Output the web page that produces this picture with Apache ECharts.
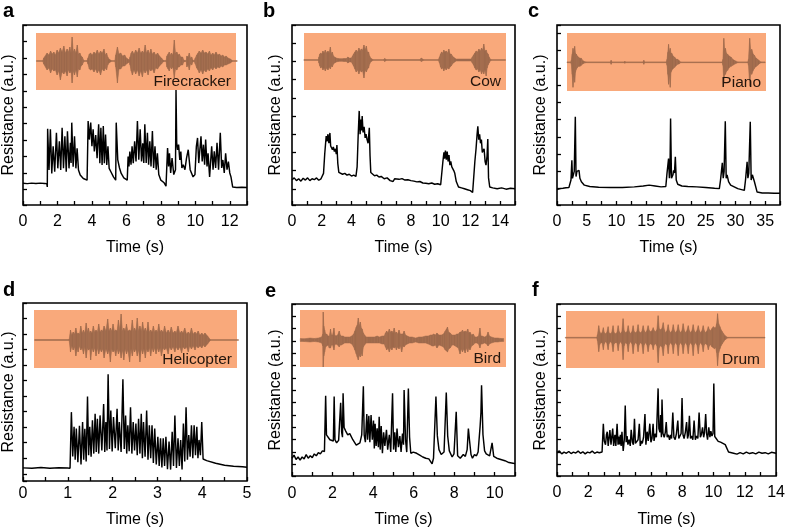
<!DOCTYPE html>
<html>
<head>
<meta charset="utf-8">
<script src="https://cdn.jsdelivr.net/npm/echarts@6/dist/echarts.min.js"></script>
<style>
html,body{margin:0;padding:0;background:#fff;}
#chart{width:788px;height:529px;}
</style>
</head>
<body>
<div id="chart"></div>
<script>
// resistance traces, [time (s), resistance (a.u.)]
var traceA = [[0,0.37],[0.25,0.35],[0.5,0.38],[0.75,0.36],[1.0,0.38],[1.25,0.36],[1.38,0.35],[1.41,0.15],
 [1.43,3.69],[1.51,1.18],[1.59,3.66],[1.67,0.97],[1.75,2.62],[1.84,1.07],[1.94,3.44],[2.02,1.28],[2.11,2.93],[2.19,1.18],[2.27,3.75],[2.35,1.28],[2.43,3.23],[2.51,1.07],[2.58,3.54],[2.67,1.28],[2.75,2.83],[2.79,1.6],[2.83,4.06],[2.91,1.38],[2.99,3.23],[3.07,1.28],[3.14,2.5],[3.22,1.18],[3.32,0.87],[3.5,0.66],[3.72,0.56],
 [3.78,4.16],[3.85,3.03],[3.93,4.06],[4.0,2.62],[4.07,3.65],[4.14,2.31],[4.22,3.3],[4.3,1.9],[4.39,3.96],[4.46,1.59],[4.52,3.75],[4.59,1.48],[4.66,3.85],[4.72,1.59],[4.79,3.33],[4.86,1.48],[4.93,2.62],[5.0,1.28],[5.1,1.07],[5.25,0.76],[5.38,0.56],
 [5.41,4.06],[5.5,1.79],[5.6,1.3],[5.7,0.97],[5.85,0.7],[6.05,0.56],
 [6.1,2.0],[6.15,1.4],[6.2,2.3],[6.27,1.5],[6.33,2.62],[6.4,1.6],[6.48,2.93],[6.56,1.7],[6.64,4.16],[6.72,1.8],[6.8,3.65],[6.88,1.7],[6.95,2.8],[7.01,1.6],[7.07,3.96],[7.15,1.6],[7.22,3.44],[7.29,1.5],[7.36,2.93],[7.43,1.4],[7.51,3.55],[7.58,1.3],[7.66,2.62],[7.73,1.2],[7.8,2.2],[7.88,0.9],[8.0,0.56],[8.19,0.4],[8.3,0.2],
 [8.39,2.52],[8.45,1.4],[8.5,2.2],[8.57,1.0],[8.65,1.9],[8.75,0.9],[8.85,1.2],
 [8.88,6.05],[8.92,2.83],[8.97,2.4],[9.03,2.72],[9.1,1.79],[9.16,2.3],[9.22,1.3],[9.3,1.5],[9.4,1.2],[9.49,1.9],[9.59,2.41],[9.7,1.2],[9.87,0.76],[9.98,0.9],
 [10.06,2.6],[10.13,3.13],[10.2,1.6],[10.33,3.23],[10.4,1.7],[10.47,2.72],[10.54,1.5],[10.6,3.03],[10.68,1.4],[10.74,2.2],[10.83,0.76],[10.95,2.62],[11.03,1.2],[11.1,2.31],[11.18,1.3],[11.26,2.83],[11.35,1.2],[11.45,3.44],[11.53,1.3],[11.6,1.79],[11.68,1.0],[11.76,2.2],[11.84,1.2],[11.92,1.69],[12.0,1.0],[12.07,0.76],[12.17,0.14],[12.4,0.12],[12.7,0.13],[13,0.12]];

var traceB = [[0,0.5],[0.15,0.6],[0.3,0.45],[0.45,0.55],[0.6,0.42],[0.75,0.58],[0.9,0.48],[1.05,0.6],[1.2,0.45],[1.35,0.55],[1.5,0.5],[1.65,0.6],[1.8,0.47],[1.95,0.55],[2.05,0.6],
 [2.12,0.85],[2.2,1.9],[2.3,2.9],[2.35,2.6],[2.42,3.0],[2.48,2.5],[2.55,3.07],[2.6,2.35],[2.66,2.4],[2.72,2.15],[2.78,2.3],[2.85,2.05],[2.92,2.2],[2.98,1.9],[3.02,2.4],[3.08,1.4],[3.15,0.9],[3.25,0.85],[3.4,0.8],[3.55,0.85],[3.7,0.75],[3.85,0.8],[4.0,0.7],[4.15,0.75],[4.3,0.68],
 [4.38,1.2],[4.45,2.9],[4.52,4.28],[4.58,3.0],[4.63,3.8],[4.68,3.2],[4.72,4.0],[4.78,3.1],[4.85,3.4],[4.92,2.8],[4.98,3.0],[5.05,2.7],[5.12,2.5],[5.2,3.35],[5.25,1.8],[5.3,0.9],[5.4,0.85],[5.55,0.72],[5.7,0.75],[5.85,0.65],[6.0,0.68],[6.2,0.55],[6.4,0.6],[6.6,0.45],[6.8,0.4],[6.9,0.55],[7.0,0.58],[7.2,0.52],[7.4,0.56],[7.6,0.48],[7.8,0.5],[8.0,0.45],[8.2,0.42],[8.4,0.38],[8.6,0.4],[8.8,0.32],[9.0,0.3],[9.2,0.28],[9.4,0.32],[9.6,0.25],[9.8,0.28],[10.0,0.22],[10.1,0.3],
 [10.15,1.5],[10.22,2.0],[10.26,1.65],[10.32,2.1],[10.38,1.6],[10.44,2.05],[10.5,1.5],[10.56,1.85],[10.62,1.3],[10.68,1.5],[10.75,1.2],[10.82,1.3],[10.88,1.0],[10.95,0.85],[11.05,0.4],[11.2,0.1],[11.4,0.05],[11.6,0.0],[11.8,-0.05],[12.0,-0.1],[12.15,-0.2],[12.25,-0.1],
 [12.3,1.5],[12.38,2.2],[12.45,3.0],[12.5,3.44],[12.56,2.7],[12.62,3.0],[12.68,2.5],[12.74,2.7],[12.8,2.0],[12.85,1.9],[12.92,2.2],[12.99,1.5],[13.05,1.3],[13.12,1.8],[13.17,2.74],[13.22,0.6],[13.3,0.1],[13.5,0.05],[13.8,0.0],[14.1,0.05],[14.4,-0.02],[14.7,0.03],[15,0.0]];

var traceC = [[0,-0.06],[0.5,0.0],[1.0,0.02],[1.5,0.05],[2.0,0.06],[2.25,0.1],[2.35,0.5],[2.5,1.64],[2.6,0.6],[2.75,0.8],[2.9,1.0],[3.08,4.16],[3.2,0.7],[3.35,1.0],[3.5,0.9],[3.7,1.06],[3.85,0.6],[4.1,0.4],[4.6,0.2],[5.5,0.12],[7,0.08],[9,0.06],[9.05,0.15],[9.1,0.05],[11,0.06],[13,0.1],[14.5,0.15],[15.5,0.2],[16.5,0.15],[17.5,0.1],[18.3,0.12],
 [18.5,0.9],[18.76,1.74],[18.9,0.6],[19.0,1.0],[19.1,4.06],[19.25,0.6],[19.5,0.8],[19.6,1.06],[19.75,0.9],[19.9,1.84],[20.05,0.5],[20.3,0.25],[21,0.15],[22,0.12],[23.5,0.1],[25,0.06],[26.5,0.02],[27.3,0.0],
 [27.5,0.5],[27.8,1.49],[27.95,0.6],[28.1,1.0],[28.3,3.9],[28.45,0.6],[28.6,0.8],[28.7,0.87],[28.85,0.4],[29.2,0.2],[30.4,0.0],[31.5,-0.1],
 [31.7,0.5],[31.97,1.55],[32.1,0.6],[32.25,0.9],[32.5,3.87],[32.65,0.5],[32.85,0.8],[33.0,0.87],[33.2,0.4],[33.65,-0.2],[34.5,-0.25],[35.5,-0.25],[36.5,-0.27],[37.5,-0.27]];

var traceD = [[0,0.38],[0.2,0.36],[0.4,0.4],[0.6,0.36],[0.8,0.39],[1.0,0.37],[1.05,0.35],
 [1.08,3.97],[1.11,1.12],[1.14,3.02],[1.165,0.9],[1.19,2.92],[1.225,0.75],[1.26,3.09],[1.295,0.6],[1.33,3.34],[1.355,0.9],[1.38,2.9],[1.41,0.8],[1.44,4.97],[1.465,1.2],[1.49,3.02],[1.52,1.1],[1.55,3.45],[1.58,1.3],[1.61,3.87],[1.635,1.4],[1.66,3.55],[1.69,1.3],[1.72,3.76],[1.76,1.5],[1.8,4.5],[1.825,1.4],[1.85,3.34],[1.875,1.5],[1.9,6.41],[1.93,1.6],[1.96,4.08],[1.99,1.44],[2.02,3.66],[2.06,1.65],[2.1,4.19],[2.125,1.5],[2.15,3.34],[2.19,1.4],[2.23,6.09],[2.26,1.6],[2.29,3.76],[2.315,1.3],[2.34,3.13],[2.37,1.45],[2.4,4.29],[2.43,1.3],[2.46,3.34],[2.49,1.5],[2.52,3.23],[2.55,1.2],[2.58,3.55],[2.61,1.3],[2.64,3.87],[2.665,1.0],[2.69,3.34],[2.725,1.1],[2.76,4.08],[2.79,0.9],[2.82,3.13],[2.85,1.0],[2.88,3.13],[2.91,0.7],[2.94,2.92],[2.975,0.6],[3.01,2.39],[3.04,0.5],[3.07,2.28],[3.1,0.4],[3.13,2.28],[3.16,0.5],[3.19,2.39],[3.225,0.3],[3.26,2.07],[3.295,0.27],[3.33,2.71],[3.36,0.5],[3.39,3.76],[3.425,0.38],[3.46,2.28],[3.49,0.5],[3.52,2.18],[3.55,0.27],[3.58,3.23],[3.61,0.8],[3.64,4.29],[3.67,0.9],[3.7,2.5],[3.73,1.1],[3.76,3.13],[3.79,1.0],[3.82,3.13],[3.85,1.2],[3.88,3.02],[3.905,1.0],[3.93,2.18],[3.96,1.2],[3.99,3.34],[4.02,0.95],[4.1,0.85],[4.3,0.68],[4.5,0.55],[4.7,0.48],[4.9,0.45],[5.0,0.42]];

var traceE = [[0,0.5],[0.1,0.75],[0.2,0.4],[0.3,0.6],[0.4,0.35],[0.5,0.6],[0.6,0.45],[0.7,0.8],[0.8,0.5],[0.9,0.7],[1.0,0.55],[1.1,0.85],[1.2,0.7],[1.3,0.95],[1.4,0.85],[1.5,1.1],[1.6,1.05],
 [1.66,5.56],[1.7,2.39],[1.78,2.26],[1.87,2.0],[1.96,2.1],[2.04,1.9],[2.08,5.5],[2.12,2.0],[2.2,1.75],[2.3,1.95],[2.36,1.8],[2.4,4.99],[2.45,2.6],[2.49,2.2],[2.52,5.77],[2.57,2.99],[2.65,2.7],[2.75,2.39],[2.85,2.5],[3.0,2.0],[3.08,1.9],[3.17,1.56],[3.25,1.65],[3.35,1.75],[3.44,2.39],[3.52,6.34],[3.56,2.4],[3.62,1.8],[3.69,4.08],[3.73,2.0],[3.79,3.94],[3.84,1.8],[3.9,4.0],[3.96,2.0],[4.02,3.56],[4.06,1.3],[4.1,3.3],[4.15,1.5],[4.2,2.92],[4.26,1.4],[4.3,3.87],[4.35,1.2],[4.4,3.1],[4.46,0.9],[4.52,2.6],[4.58,1.5],[4.66,2.8],[4.72,1.2],[4.8,2.4],[4.87,1.0],[4.96,5.77],[5.01,1.2],[5.07,2.6],[5.12,1.0],[5.18,2.9],[5.25,1.4],[5.32,2.3],[5.38,1.0],[5.45,2.5],[5.5,1.6],[5.53,6.03],[5.6,2.0],[5.66,1.0],[5.74,6.16],[5.8,2.2],[5.86,0.9],[5.98,1.0],[6.15,0.9],[6.3,0.75],[6.45,0.6],[6.6,0.5],[6.75,0.45],[6.83,0.35],[6.91,0.05],[6.98,0.5],
 [7.1,5.51],[7.17,2.31],[7.25,1.2],[7.36,0.8],[7.5,1.0],[7.61,5.82],[7.68,2.3],[7.76,1.1],[7.9,0.6],[7.99,0.85],[8.1,4.26],[8.17,0.7],[8.3,0.5],[8.45,0.8],[8.55,0.65],[8.64,1.2],[8.7,2.91],[8.76,1.9],[8.83,0.8],[8.9,0.5],[9.0,0.8],[9.1,0.7],[9.18,1.0],[9.28,3.1],[9.32,4.21],[9.35,6.42],[9.42,2.4],[9.5,1.1],[9.58,0.85],[9.75,0.7],[9.87,1.74],[9.95,0.65],[10.1,0.5],[10.3,0.4],[10.5,0.3],[10.7,0.15],[10.9,0.1],[11,0.05]];

var traceF = [[0,0.96],[0.15,1.1],[0.3,0.85],[0.45,1.0],[0.6,0.9],[0.75,1.05],[0.9,0.88],[1.05,1.0],[1.2,0.92],[1.35,1.08],[1.5,0.9],[1.65,1.02],[1.8,0.85],[1.95,1.0],[2.1,0.93],[2.25,1.08],[2.4,0.9],[2.55,1.0],[2.7,0.95],[2.88,1.0],
 [2.96,3.3],[3.02,1.9],[3.1,1.6],[3.16,2.4],[3.21,2.65],[3.27,1.5],[3.33,2.2],[3.38,2.78],[3.45,1.6],[3.5,2.2],[3.56,2.9],[3.62,1.5],[3.7,2.4],[3.76,1.5],[3.84,3.3],[3.9,1.6],[3.94,2.26],[4.0,1.61],[4.05,2.4],[4.1,1.5],[4.15,2.65],[4.23,1.09],[4.3,2.0],[4.36,4.78],[4.42,1.8],[4.48,2.3],[4.53,1.6],[4.61,2.0],[4.68,1.5],[4.74,2.8],[4.82,1.8],[4.88,1.6],[4.95,3.69],[5.01,1.7],[5.1,1.6],[5.18,2.0],[5.26,3.3],[5.32,1.5],[5.4,1.9],[5.45,1.7],[5.53,2.2],[5.62,4.08],[5.68,1.6],[5.76,2.65],[5.83,1.9],[5.93,3.3],[6.0,1.8],[6.07,2.1],[6.14,3.3],[6.2,1.9],[6.28,2.5],[6.35,2.2],
 [6.46,6.16],[6.51,2.91],[6.58,2.6],[6.62,4.0],[6.67,2.2],[6.71,5.25],[6.77,2.5],[6.85,2.2],[6.92,2.6],[6.98,3.43],[7.04,2.2],[7.12,2.4],[7.19,2.0],[7.26,2.4],[7.32,2.1],[7.4,4.21],[7.47,2.2],[7.55,2.0],[7.63,2.5],[7.72,3.56],[7.78,2.1],[7.86,2.0],[7.93,2.5],[7.99,5.38],[8.05,2.4],[8.12,2.1],[8.2,2.6],[8.28,3.43],[8.34,2.1],[8.4,2.4],[8.46,3.95],[8.53,2.1],[8.6,2.3],[8.68,2.0],[8.76,3.56],[8.84,2.0],[8.92,2.3],[9.0,2.1],[9.08,4.21],[9.16,2.2],[9.22,2.4],[9.3,3.0],[9.37,2.2],[9.43,2.6],[9.5,4.08],[9.56,2.5],[9.62,2.0],[9.7,3.0],[9.77,2.2],[9.83,2.7],[9.9,2.3],[9.97,2.5],[10.02,6.55],[10.08,2.26],[10.18,2.1],[10.3,1.87],[10.45,1.8],[10.6,1.7],[10.75,1.6],[10.86,1.48],[10.96,1.0],[11.07,0.96],[11.28,0.9],[11.5,0.83],[11.7,0.95],[11.9,0.85],[12.1,1.0],[12.3,0.88],[12.5,0.95],[12.7,0.85],[12.9,1.0],[13.1,0.9],[13.3,0.95],[13.5,0.85],[13.7,0.98],[14,0.9]];

// sound waveforms in the insets, [time (s), upper envelope, lower envelope]
var waveA = [[0.78,0.4,0.4],[1.15,0.4,0.4],[1.2,3,3],[1.4,8,9],[1.5,6,7],[1.6,10,12],[1.7,7,8],[1.79,9,10],[1.88,6,9],[1.98,11,14],[2.07,8,10],[2.17,13,19],[2.27,9,11],[2.37,15,13],[2.46,8,10],[2.56,12,15],[2.64,9,9],[2.72,14,12],[2.79,8,10],[2.85,24,22],[2.92,9,10],[2.99,12,14],[3.07,8,9],[3.15,16,16],[3.22,7,8],[3.3,8,9],[3.37,5,5],[3.44,4,4],[3.53,0.4,0.4],[3.72,0.4,0.4],[3.77,3,3],[3.85,7,8],[3.92,8,9],[4.02,6,8],[4.12,9,11],[4.21,7,8],[4.31,11,12],[4.4,7,9],[4.5,10,14],[4.6,8,8],[4.7,12,10],[4.78,6,7],[4.85,8,9],[4.92,4,4],[4.99,2,2],[5.13,0.4,0.4],[5.33,0.4,0.4],[5.38,6,6],[5.48,14,22],[5.57,7,8],[5.67,8,8],[5.78,5,5],[5.9,6,5],[6.0,3,3],[6.1,2,2],[6.16,0.4,0.4],[6.21,4,4],[6.28,8,10],[6.35,10,14],[6.44,7,9],[6.54,11,13],[6.64,8,9],[6.74,13,15],[6.83,8,10],[6.93,10,16],[7.01,8,9],[7.09,16,12],[7.17,8,9],[7.26,11,14],[7.34,7,8],[7.42,12,10],[7.51,7,8],[7.61,9,12],[7.7,6,7],[7.81,8,8],[7.92,5,5],[8.04,3,3],[8.12,1,1],[8.19,0.4,0.4],[8.3,0.4,0.4],[8.35,5,6],[8.42,7,8],[8.49,9,10],[8.55,6,6],[8.62,8,8],[8.7,6,6],[8.78,21,17],[8.85,8,8],[8.93,9,9],[9.0,6,6],[9.07,7,6],[9.16,4,4],[9.26,4,4],[9.33,1,1],[9.4,0.4,0.4],[9.47,0.4,0.4],[9.51,5,6],[9.58,4,4],[9.65,8,9],[9.72,3,3],[9.79,4,4],[9.87,0.4,0.4],[9.94,0.4,0.4],[10.0,3,3],[10.08,6,7],[10.16,8,9],[10.23,10,12],[10.33,8,9],[10.43,11,13],[10.52,8,9],[10.62,9,11],[10.72,7,8],[10.82,10,10],[10.91,6,7],[11.01,8,9],[11.1,6,6],[11.2,9,8],[11.3,6,6],[11.4,7,7],[11.5,5,5],[11.59,6,6],[11.69,4,4],[11.79,5,4],[11.9,3,3],[12.04,2,2],[12.15,0.4,0.4],[12.43,0.4,0.4]];

var waveB = [[0.8,0.4,0.4],[1.78,0.4,0.4],[1.81,3,3],[1.87,6,6],[1.93,7,8],[2.0,6,7],[2.08,9,10],[2.16,7,8],[2.24,10,11],[2.33,7,8],[2.42,9,10],[2.5,7,7],[2.58,13,9],[2.65,6,6],[2.71,8,7],[2.79,4,4],[2.87,3,3],[2.98,2,2],[3.09,1.5,1.5],[3.3,1.2,1.2],[3.5,1.5,1.5],[3.65,1.5,1.5],[3.76,3,3],[3.85,2,2],[3.99,2,2],[4.07,4,4],[4.14,6,6],[4.23,8,9],[4.32,10,12],[4.41,8,10],[4.5,12,14],[4.58,9,10],[4.66,11,12],[4.75,10,11],[4.84,15,18],[4.92,10,10],[5.0,14,12],[5.08,8,9],[5.15,8,8],[5.22,4,4],[5.29,2,2],[5.44,0.4,0.4],[6.18,0.4,0.4],[6.23,1.5,1.5],[6.34,0.4,0.4],[8.64,0.4,0.4],[8.69,2,1.5],[8.85,0.4,0.4],[9.85,0.4,0.4],[9.92,3,3],[9.99,6,7],[10.06,8,9],[10.14,7,8],[10.21,10,11],[10.29,8,8],[10.37,9,10],[10.46,7,8],[10.55,11,9],[10.63,6,7],[10.71,6,6],[10.79,4,4],[10.86,3,3],[11.04,1,1],[12.05,1,1],[12.13,3,3],[12.21,5,5],[12.3,7,8],[12.39,9,10],[12.48,8,9],[12.57,11,12],[12.66,9,10],[12.75,12,14],[12.83,10,11],[12.9,16,14],[12.98,9,10],[13.06,10,16],[13.13,7,8],[13.19,6,5],[13.26,3,3],[13.33,1,1],[13.4,0.4,0.4],[14.36,0.4,0.4]];

var waveC = [[1.68,0.4,0.4],[2.35,0.4,0.4],[2.41,2,2],[2.55,8,12],[2.69,14,25],[2.83,10,14],[2.97,16,20],[3.1,9,10],[3.25,8,7],[3.45,6,5],[3.64,5,4],[3.85,4,4],[4.09,4,3],[4.37,1.5,1.5],[4.6,0.8,0.8],[4.93,0.4,0.4],[9.0,0.4,0.4],[9.1,2,2],[9.2,0.4,0.4],[11.35,0.4,0.4],[11.4,1,1],[11.45,0.4,0.4],[14.5,0.4,0.4],[14.6,2,2],[14.7,0.4,0.4],[18.4,0.4,0.4],[18.5,3,3],[18.63,10,12],[18.76,18,22],[18.9,10,12],[19.04,14,25],[19.17,9,10],[19.3,9,8],[19.55,6,6],[19.8,5,5],[20.05,3,3],[20.3,3,2],[20.55,1.5,1.5],[20.8,0.4,0.4],[27.8,0.4,0.4],[27.9,3,3],[28.05,24,20],[28.19,12,12],[28.33,14,12],[28.5,9,9],[28.7,8,8],[29.0,6,5],[29.3,5,4],[29.55,3,3],[29.8,2,2],[30.4,0.4,0.4],[32.1,0.4,0.4],[32.2,3,3],[32.4,24,24],[32.57,12,11],[32.75,13,12],[33.0,8,8],[33.2,7,6],[33.5,4,4],[33.76,3,3],[34.0,1.5,1.5],[34.3,0.4,0.4],[35.0,0.4,0.4]];

var waveD = [[0.26,0.4,0.4],[1.03,0.4,0.4],[1.06,10,12],[1.09,5,6],[1.12,8,10],[1.15,6,7],[1.18,12,16],[1.21,6,8],[1.23,7,12],[1.26,6,6],[1.29,14,10],[1.32,7,8],[1.35,10,14],[1.38,7,7],[1.41,17,18],[1.44,8,8],[1.46,12,10],[1.49,7,9],[1.51,9,20],[1.54,7,8],[1.57,14,12],[1.6,8,8],[1.63,10,16],[1.66,8,8],[1.69,16,14],[1.72,8,9],[1.75,10,12],[1.78,9,9],[1.81,14,18],[1.85,9,9],[1.89,21,14],[1.92,9,10],[1.95,12,22],[1.98,9,9],[2.01,16,12],[2.04,9,10],[2.07,10,16],[2.1,9,9],[2.13,20,14],[2.16,10,10],[2.19,26,18],[2.22,9,10],[2.25,12,20],[2.28,9,9],[2.31,16,14],[2.34,9,10],[2.38,10,22],[2.41,9,9],[2.44,20,16],[2.47,9,9],[2.49,12,12],[2.52,9,9],[2.55,22,16],[2.58,9,10],[2.61,14,22],[2.64,9,9],[2.67,18,14],[2.7,9,9],[2.73,12,18],[2.76,8,9],[2.79,18,12],[2.82,8,8],[2.85,10,16],[2.88,8,8],[2.91,14,12],[2.94,8,8],[2.97,10,14],[3.0,8,8],[3.03,16,12],[3.06,8,8],[3.09,10,16],[3.13,8,8],[3.16,14,10],[3.2,7,8],[3.24,10,14],[3.27,7,7],[3.31,13,10],[3.35,7,7],[3.39,9,12],[3.42,7,7],[3.46,14,10],[3.5,7,7],[3.54,9,13],[3.57,7,7],[3.61,12,9],[3.65,6,7],[3.69,8,12],[3.72,6,6],[3.76,12,9],[3.8,6,6],[3.84,8,10],[3.87,6,6],[3.91,9,8],[3.95,5,6],[3.99,7,8],[4.03,5,5],[4.06,7,7],[4.12,4,4],[4.18,0.4,0.4],[4.81,0.4,0.4]];

var waveE = [[0.41,1.5,1.5],[0.6,1.2,1.5],[0.89,2,2],[1.1,1.5,1.5],[1.3,2,2],[1.46,3,3],[1.52,6,6],[1.54,28,27],[1.57,14,16],[1.61,10,12],[1.66,6,7],[1.71,6,6],[1.78,4,5],[1.84,4,8],[1.9,11,8],[1.95,5,5],[2.0,5,5],[2.07,12,10],[2.11,5,5],[2.16,4,4],[2.25,5,5],[2.33,9,7],[2.38,5,5],[2.44,4,5],[2.52,4,4],[2.6,3,3],[2.72,3,3],[2.85,3,3],[2.95,4,4],[3.04,6,7],[3.1,9,10],[3.17,13,14],[3.22,15,17],[3.27,22,20],[3.32,14,15],[3.37,18,17],[3.42,12,13],[3.46,11,16],[3.52,7,7],[3.58,5,5],[3.66,3,3],[3.74,3,3],[3.9,3,3],[4.07,3,3],[4.2,4,3],[4.31,3,3],[4.45,4,4],[4.55,4,4],[4.61,7,7],[4.67,9,10],[4.73,7,8],[4.8,11,12],[4.86,8,8],[4.93,9,10],[4.98,7,7],[5.04,12,8],[5.1,7,7],[5.15,8,10],[5.21,6,7],[5.28,10,9],[5.34,6,6],[5.41,6,12],[5.47,6,6],[5.53,9,7],[5.6,5,5],[5.69,4,4],[5.8,3,3],[5.93,3,3],[6.1,2,2],[6.26,3,3],[6.42,3,3],[6.59,4,3],[6.72,4,4],[6.83,5,5],[6.91,5,6],[6.99,6,6],[7.07,5,5],[7.15,7,8],[7.25,5,5],[7.37,5,6],[7.47,6,7],[7.56,9,10],[7.62,11,11],[7.67,13,12],[7.73,8,9],[7.8,7,8],[7.9,5,5],[7.97,5,5],[8.05,5,6],[8.13,6,7],[8.2,6,8],[8.29,8,14],[8.35,8,9],[8.41,10,12],[8.47,8,9],[8.54,9,13],[8.6,8,8],[8.67,11,12],[8.72,7,8],[8.78,8,10],[8.86,5,6],[8.94,6,5],[9.03,3,3],[9.11,3,3],[9.2,4,4],[9.27,12,8],[9.32,4,4],[9.38,4,4],[9.5,3,3],[9.6,4,4],[9.67,8,6],[9.74,4,4],[9.84,3,3],[10.0,2,2],[10.16,2,2],[10.3,1.5,1.5],[10.44,1.5,1.5]];

var waveF = [[0.52,0.4,0.4],[2.5,0.4,0.4],[2.54,3,3],[2.62,12,14],[2.68,6,7],[2.75,4,5],[2.83,5,5],[2.91,10,12],[2.97,5,6],[3.04,4,4],[3.12,5,5],[3.21,11,12],[3.27,5,6],[3.33,4,4],[3.43,5,5],[3.52,12,14],[3.59,5,6],[3.67,4,5],[3.76,5,5],[3.84,12,13],[3.91,6,6],[3.98,4,4],[4.07,6,6],[4.15,19,22],[4.22,7,8],[4.3,5,5],[4.39,6,6],[4.47,12,14],[4.54,6,6],[4.61,4,4],[4.7,6,6],[4.78,12,16],[4.85,6,7],[4.93,5,5],[5.01,6,6],[5.09,13,14],[5.16,6,7],[5.24,5,5],[5.32,6,6],[5.41,12,16],[5.48,7,7],[5.56,5,5],[5.64,7,7],[5.72,12,14],[5.8,7,7],[5.89,6,6],[5.96,7,7],[6.04,10,12],[6.11,7,7],[6.18,6,6],[6.27,8,8],[6.35,22,25],[6.42,9,10],[6.5,8,8],[6.58,9,9],[6.67,15,18],[6.74,8,8],[6.81,5,6],[6.9,7,7],[6.98,13,16],[7.05,7,7],[7.13,5,5],[7.22,7,7],[7.3,13,16],[7.37,7,7],[7.44,5,5],[7.53,7,7],[7.61,13,18],[7.68,7,7],[7.76,5,5],[7.84,7,7],[7.92,14,16],[8.0,7,7],[8.07,5,5],[8.15,7,7],[8.24,12,16],[8.31,7,7],[8.39,5,5],[8.47,7,7],[8.55,13,18],[8.62,7,7],[8.7,5,5],[8.78,7,7],[8.87,12,16],[8.94,7,7],[9.01,5,5],[9.1,7,7],[9.18,12,14],[9.25,7,7],[9.33,5,6],[9.42,7,7],[9.5,11,12],[9.57,8,8],[9.64,7,7],[9.72,9,9],[9.81,11,10],[9.88,10,11],[9.96,10,10],[10.02,14,15],[10.08,24,28],[10.15,14,15],[10.23,11,11],[10.3,8,8],[10.38,6,6],[10.46,4,4],[10.55,2,2],[10.71,0.4,0.4],[13.06,0.4,0.4]];

var FONT = '"Liberation Sans", Arial, Helvetica, sans-serif';
var INSET_BG = '#f9a97b';
var WAVE_COLOR = '#9e6a4d';

// box = main plot [left, top, width, height], inset = orange box, mid = y of the waveform zero line
var panels = [
  {letter:'a', name:'Firecracker', trace:traceA, wave:waveA, xMax:13, step:2, yMin:-0.95, yMax:10,
   box:[23,25,224,180], inset:[36,33,200,57], mid:61, lp:[3,18], lm:9, ng:35, yng:6},
  {letter:'b', name:'Cow', trace:traceB, wave:waveB, xMax:15, step:2, yMin:-0.89, yMax:9,
   box:[292,25,223,180], inset:[304,33,202,57], mid:60, lp:[263,18], lm:9, ng:35, yng:8},
  {letter:'c', name:'Piano', trace:traceC, wave:waveC, xMax:37.5, step:5, yMin:-0.95, yMax:9.48,
   box:[557,25,223,180], inset:[567,33,199,58], mid:62.3, lp:[528,18], lm:9, ng:35, yng:8},
  {letter:'d', name:'Helicopter', trace:traceD, wave:waveD, xMax:5, step:1, yMin:-0.465, yMax:11,
   box:[23,303,224,180], inset:[34,310,203,58], mid:340, lp:[3,297], lm:5, ng:31, yng:6},
  {letter:'e', name:'Bird', trace:traceE, wave:waveE, xMax:11, step:2, yMin:-0.94, yMax:13,
   box:[292,304,223,179], inset:[300,310,206,57], mid:340, lp:[265,298], lm:10, ng:36, yng:8},
  {letter:'f', name:'Drum', trace:traceF, wave:waveF, xMax:14, step:2, yMin:-0.94, yMax:13,
   box:[557,304,223,179], inset:[566,311,199,57], mid:337.7, lp:[532,297], lm:9, ng:36, yng:8}
];

function labelFormatter(step)
{
	return function (v) {
		var k = v / step ;
		return Math.abs(k - Math.round(k)) < 1e-6 ? String(v) : '' ;
	} ;
}

function waveRenderer(wave)
{
	// fill the envelope between neighbouring samples
	return function (params, api) {
		var i = params.dataIndex ;
		if (i >= wave.length - 1) return null ;
		var p = wave[i], q = wave[i + 1] ;
		var pts = [ api.coord([p[0], p[1]]), api.coord([q[0], q[1]]),
		            api.coord([q[0], -q[2]]), api.coord([p[0], -p[2]]) ] ;
		return { type:'polygon', shape:{ points:pts },
		         style:{ fill:WAVE_COLOR, stroke:WAVE_COLOR, lineWidth:0.5 } } ;
	} ;
}

var option = {
	animation:false,
	backgroundColor:'#fff',
	grid:[], xAxis:[], yAxis:[], series:[], graphic:[]
} ;

panels.forEach(function (p, i) {
	var b = p.box, s = p.inset ;
	var gMain = 2 * i, gIn = 2 * i + 1 ;

	option.grid.push({ left:b[0], top:b[1], width:b[2], height:b[3], show:true,
	                   borderColor:'#000', borderWidth:1.6, backgroundColor:'transparent' }) ;
	option.grid.push({ left:s[0], top:s[1], width:s[2], height:s[3], show:true,
	                   borderWidth:0, backgroundColor:INSET_BG }) ;

	var textStyle = { color:'#000', fontSize:16, fontFamily:FONT } ;

	option.xAxis.push({
		gridIndex:gMain, type:'value', min:0, max:p.xMax, interval:p.step / 2,
		axisLine:{ show:false, onZero:false }, splitLine:{ show:false },
		axisTick:{ inside:true, length:4, lineStyle:{ color:'#000', width:1.3 } },
		axisLabel:{ color:'#000', fontSize:16, fontFamily:FONT, margin:p.lm, formatter:labelFormatter(p.step) },
		name:'Time (s)', nameLocation:'middle', nameGap:p.ng, nameTextStyle:textStyle
	}) ;
	option.yAxis.push({
		gridIndex:gMain, type:'value', min:p.yMin, max:p.yMax, minInterval:1, maxInterval:1, splitNumber:10,
		axisLine:{ show:false, onZero:false }, splitLine:{ show:false }, axisLabel:{ show:false },
		axisTick:{ inside:true, length:4, lineStyle:{ color:'#000', width:1.3 } },
		name:'Resistance (a.u.)', nameLocation:'middle', nameGap:p.yng, nameTextStyle:textStyle
	}) ;

	// inset axes: time on x, waveform amplitude in px on y
	var tPerPx = p.xMax / b[2] ;
	option.xAxis.push({ gridIndex:gIn, type:'value', show:false,
		min:(s[0] - b[0]) * tPerPx, max:(s[0] + s[2] - b[0]) * tPerPx }) ;
	option.yAxis.push({ gridIndex:gIn, type:'value', show:false,
		min:-(s[1] + s[3] - p.mid), max:p.mid - s[1] }) ;

	option.series.push({
		type:'line', xAxisIndex:gMain, yAxisIndex:gMain, data:p.trace,
		symbol:'none', silent:true, z:3,
		lineStyle:{ color:'#000', width:1.45 }
	}) ;
	option.series.push({
		type:'custom', xAxisIndex:gIn, yAxisIndex:gIn, data:p.wave,
		renderItem:waveRenderer(p.wave), silent:true, z:2
	}) ;

	option.graphic.push({ type:'text', x:s[0] + s[2] - 5, y:s[1] + s[3] - 8.5, z:10,
		style:{ text:p.name, font:'15.5px ' + FONT, fill:'#24160d', textAlign:'right', textVerticalAlign:'middle' } }) ;
	option.graphic.push({ type:'text', x:p.lp[0], y:p.lp[1] - 6.4, z:10,
		style:{ text:p.letter, font:'bold 20px ' + FONT, fill:'#000', textAlign:'left', textVerticalAlign:'middle' } }) ;
}) ;

var chart = echarts.init(document.getElementById('chart'), null, { renderer:'canvas' }) ;
chart.setOption(option) ;
</script>
</body>
</html>
